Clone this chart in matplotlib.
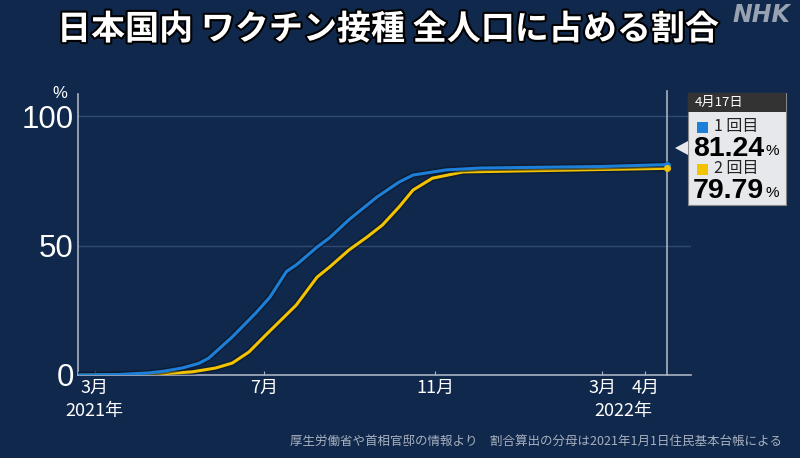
import numpy as np
import pandas as pd
import matplotlib
matplotlib.use('Agg')
import matplotlib.pyplot as plt
import matplotlib.dates as mdates
import matplotlib.patheffects as pe
from matplotlib.patches import Rectangle, Polygon

plt.rcParams['font.family'] = ['Noto Sans CJK JP', 'DejaVu Sans']

# data (percent of total population)
first_dates = ['2021-02-17', '2021-03-18', '2021-04-09', '2021-04-20', '2021-05-03', '2021-05-15',
               '2021-05-22', '2021-06-08', '2021-06-25', '2021-07-05', '2021-07-17', '2021-07-24',
               '2021-08-08', '2021-08-17', '2021-08-31', '2021-09-20', '2021-10-06', '2021-10-16',
               '2021-11-09', '2021-12-03', '2022-02-28', '2022-04-17']
first_vals = [0.0, 0.2, 0.8, 1.5, 2.7, 4.5, 6.5, 14.7, 24.0, 30.0, 40.0, 42.5,
              49.4, 53.0, 60.0, 68.7, 74.5, 77.2, 79.2, 79.9, 80.5, 81.24]

second_dates = ['2021-02-17', '2021-04-09', '2021-05-10', '2021-05-27', '2021-06-08', '2021-06-20',
                '2021-07-02', '2021-07-24', '2021-08-08', '2021-08-17', '2021-08-31', '2021-09-13',
                '2021-09-24', '2021-10-06', '2021-10-16', '2021-10-30', '2021-11-21', '2022-01-23',
                '2022-04-17']
second_vals = [0.0, 0.2, 1.2, 2.7, 4.6, 8.9, 15.4, 27.0, 37.8, 41.7, 48.3, 53.3,
               57.9, 64.9, 71.4, 76.0, 78.4, 79.0, 79.79]

tick_dates = ['2021-03-01', '2021-07-01', '2021-11-01', '2022-03-01', '2022-04-01']
tick_labels = ['3月', '7月', '11月', '3月', '4月']
year_dates = ['2021-03-01', '2022-03-16']
year_labels = ['2021年', '2022年']
latest_label = '4月17日'

bg = '#10284b'
blue = '#1e7fd8'
yellow = '#f3c300'
axcol = '#a9b2c2'

W, H = 800, 458
fig = plt.figure(figsize=(8, 4.58), dpi=100, facecolor=bg)
ax = fig.add_axes([78 / W, 1 - 375 / H, (691 - 78) / W, (375 - 94) / H])
ax.set_facecolor(bg)

d1 = pd.to_datetime(first_dates)
d2 = pd.to_datetime(second_dates)
shadow = [pe.Stroke(linewidth=4.5, foreground='#0a1628', alpha=0.6), pe.Normal()]
ax.plot(d2, second_vals, color=yellow, lw=2.2, path_effects=shadow, zorder=3)
ax.plot(d1, first_vals, color=blue, lw=2.2, path_effects=shadow, zorder=4)
ax.plot(d1[-1], first_vals[-1], 'o', color=blue, ms=4, zorder=5)
ax.plot(d2[-1], second_vals[-1], 'o', color=yellow, ms=4, zorder=5)

ax.set_xlim(pd.Timestamp('2021-02-17'), pd.Timestamp('2022-05-04'))
ax.set_ylim(0, 108.5)

for s in ['top', 'right']:
    ax.spines[s].set_visible(False)
for s in ['left', 'bottom']:
    ax.spines[s].set_color(axcol)
    ax.spines[s].set_linewidth(1.2)

ax.set_yticks([0, 50, 100])
ax.set_yticklabels(['0', '50', '100'], fontfamily='Liberation Sans', fontsize=22.5, color='white')
ax.tick_params(axis='y', length=0, pad=3)
for y in [50, 100]:
    ax.axhline(y, color='#2e4a70', lw=1, zorder=1)

ax.set_xticks(pd.to_datetime(tick_dates))
ax.set_xticklabels(tick_labels, fontsize=13, color='white')
ax.tick_params(axis='x', length=3, direction='in', color=axcol, pad=3)

for d, lab in zip(year_dates, year_labels):
    ax.text(pd.Timestamp(d), -0.095, lab, transform=ax.get_xaxis_transform(),
            ha='center', va='top', fontsize=13, color='white')

ax.axvline(d1[-1], color=axcol, lw=1.2, ymin=0, ymax=1.01, clip_on=False, zorder=2)

ax.text(-0.018, 1.0, '%', transform=ax.transAxes, ha='right', va='center',
        fontsize=12, color='white', fontfamily='Liberation Sans')

# title
fig.text(57 / W, 1 - 29 / H, '日本国内 ワクチン接種 全人口に占める割合', ha='left', va='center',
         fontsize=24.5, fontweight='bold', color='white',
         path_effects=[pe.Stroke(linewidth=3, foreground='black'), pe.Normal()])
fig.text(790 / W, 1 - 15 / H, 'NHK', ha='right', va='center', fontsize=17, fontweight='bold',
         fontstyle='italic', color='#a9b0bc', fontfamily='DejaVu Sans', alpha=0.9)

# source
fig.text(782 / W, 1 - 441 / H, '厚生労働省や首相官邸の情報より　割合算出の分母は2021年1月1日住民基本台帳による',
         ha='right', va='center', fontsize=9, color='#a8b1c0')

# tooltip box
def fx(x):
    return x / W

def fy(y):
    return 1 - y / H

fig.patches.append(Rectangle((fx(688), fy(205)), (786 - 688) / W, (205 - 93) / H,
                             transform=fig.transFigure, facecolor='#e6e8eb', edgecolor='#888888', lw=0.8))
fig.patches.append(Rectangle((fx(688), fy(112)), (786 - 688) / W, (112 - 93) / H,
                             transform=fig.transFigure, facecolor='#333333', edgecolor='none'))
fig.patches.append(Polygon([(fx(675), fy(148)), (fx(688), fy(141)), (fx(688), fy(155))],
                           transform=fig.transFigure, facecolor='#e6e8eb', edgecolor='none'))
fig.text(fx(695), fy(102.5), latest_label, ha='left', va='center', fontsize=9.5, color='white')
fig.patches.append(Rectangle((fx(697), fy(133)), 11 / W, 11 / H, transform=fig.transFigure,
                             facecolor=blue, edgecolor='none'))
fig.text(fx(714), fy(127), '1 回目', ha='left', va='center', fontsize=11.5, color='#222222')
fig.text(fx(693), fy(149), '%.2f' % first_vals[-1], ha='left', va='center', fontsize=20.5,
         fontweight='bold', color='black', fontfamily='Liberation Sans')
fig.text(fx(766), fy(151), '%', ha='left', va='center', fontsize=11, color='black',
         fontfamily='Liberation Sans')
fig.patches.append(Rectangle((fx(697), fy(175)), 11 / W, 11 / H, transform=fig.transFigure,
                             facecolor=yellow, edgecolor='none'))
fig.text(fx(714), fy(169), '2 回目', ha='left', va='center', fontsize=11.5, color='#222222')
fig.text(fx(693), fy(191), '%.2f' % second_vals[-1], ha='left', va='center', fontsize=20.5,
         fontweight='bold', color='black', fontfamily='Liberation Sans')
fig.text(fx(766), fy(193), '%', ha='left', va='center', fontsize=11, color='black',
         fontfamily='Liberation Sans')

fig.savefig('out.png', dpi=100, facecolor=bg)
